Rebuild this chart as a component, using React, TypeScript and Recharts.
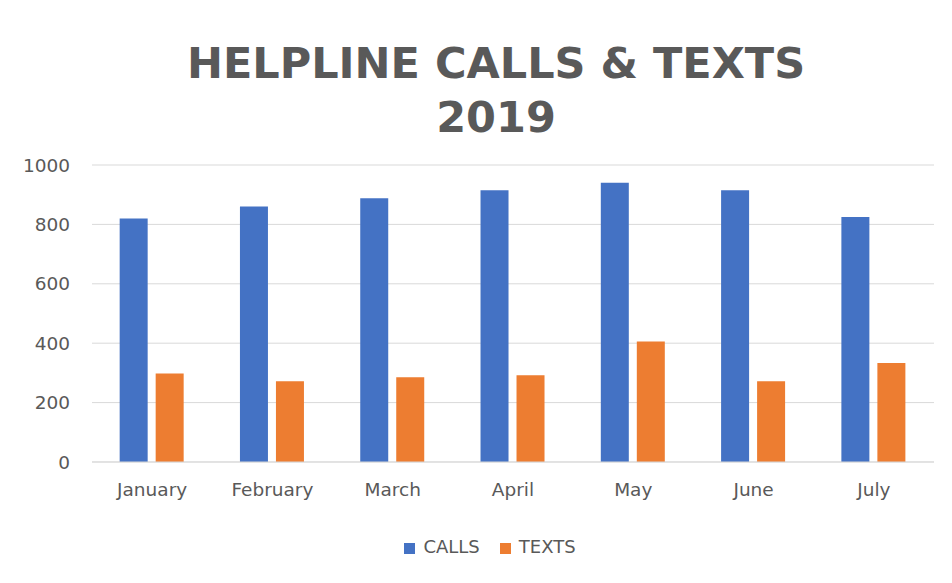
import React from 'react';
import { BarChart, Bar, XAxis, YAxis, CartesianGrid, Legend } from 'recharts';

const months = ['January', 'February', 'March', 'April', 'May', 'June', 'July'];
const calls = [820, 860, 888, 915, 940, 915, 825];
const texts = [298, 272, 285, 292, 406, 272, 333];
const yTicks = [0, 200, 400, 600, 800, 1000];

const data = months.map((m, i) => ({ name: m, CALLS: calls[i], TEXTS: texts[i] }));

const FONT = '"DejaVu Sans", sans-serif';
const GREY = '#595959';

const App: React.FC = () => {
  return (
    <div style={{ position: 'absolute', left: 0, top: 0, width: 952, height: 583, background: '#fff', fontFamily: FONT }}>
      <div
        style={{
          position: 'absolute',
          left: 0,
          top: 36,
          width: 992,
          textAlign: 'center',
          color: GREY,
          fontWeight: 700,
          fontSize: 43,
          lineHeight: '54px',
        }}
      >
        HELPLINE CALLS &amp; TEXTS
        <br />
        2019
      </div>
      <BarChart
        width={952}
        height={583}
        data={data}
        margin={{ top: 165, right: 18, left: 0, bottom: 60 }}
        barCategoryGap="23%"
        barGap={8}
      >
        <CartesianGrid vertical={false} stroke="#d9d9d9" />
        <XAxis
          dataKey="name"
          tick={{ fill: GREY, fontSize: 18.5, fontFamily: FONT }}
          axisLine={{ stroke: '#d9d9d9' }}
          tickLine={false}
          tickMargin={15}
          height={40}
          interval={0}
        />
        <YAxis
          domain={[0, 1000]}
          ticks={yTicks}
          width={92}
          tick={{ fill: GREY, fontSize: 18.5, fontFamily: FONT }}
          axisLine={false}
          tickLine={false}
          tickMargin={16}
        />
        <Legend
          verticalAlign="bottom"
          iconType="square"
          iconSize={11}
          formatter={(value: string) => (
            <span style={{ color: GREY, fontSize: 18, fontFamily: FONT, marginLeft: 4, marginRight: 10 }}>{value}</span>
          )}
          wrapperStyle={{ bottom: 26, left: 24, width: 952 }}
        />
        <Bar dataKey="CALLS" fill="#4472C4" isAnimationActive={false} />
        <Bar dataKey="TEXTS" fill="#ED7D31" isAnimationActive={false} />
      </BarChart>
    </div>
  );
};

export default App;
